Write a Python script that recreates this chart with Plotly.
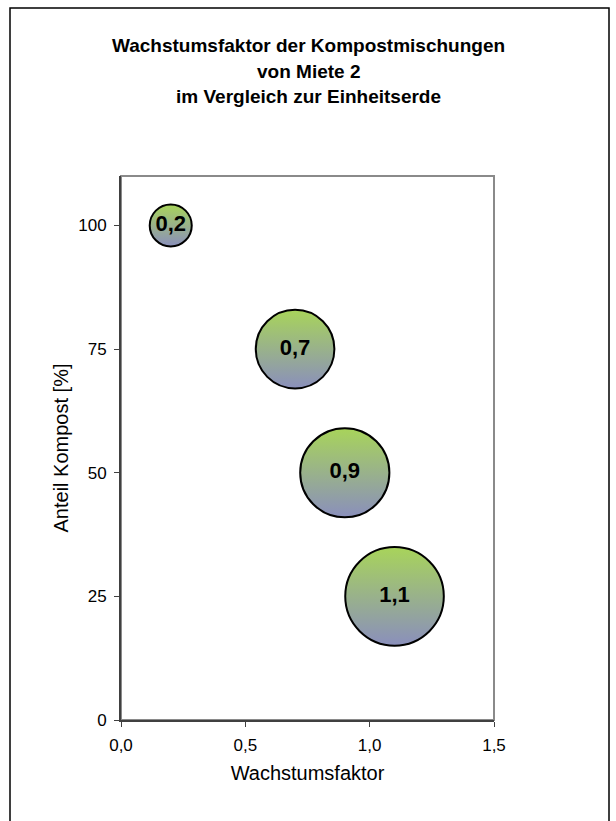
import plotly.graph_objects as go

# Wachstumsfaktor je Mischung (x-Position und Blasengröße)
wachstumsfaktor = [0.2, 0.7, 0.9, 1.1]
# Anteil Kompost in der Mischung [%]
anteil_kompost = [100, 75, 50, 25]

x_tickvals = [0.0, 0.5, 1.0, 1.5]
x_ticktext = ["0,0", "0,5", "1,0", "1,5"]
y_tickvals = [0, 25, 50, 75, 100]
y_ticktext = ["0", "25", "50", "75", "100"]

title_lines = [
    "Wachstumsfaktor der Kompostmischungen",
    "von Miete 2",
    "im Vergleich zur Einheitserde",
]

FONT = "Arial, Liberation Sans, sans-serif"

labels = [f"{v:.1f}".replace(".", ",") for v in wachstumsfaktor]

fig = go.Figure()
fig.add_trace(go.Scatter(
    x=wachstumsfaktor,
    y=anteil_kompost,
    mode="markers+text",
    text=labels,
    textposition="middle center",
    textfont=dict(family=FONT, size=22, color="#000000", weight="bold"),
    marker=dict(
        size=wachstumsfaktor,
        sizemode="area",
        sizeref=2 / (94 ** 2),
        color="#a8d45a",
        gradient=dict(type="vertical", color="#8a8fbc"),
        line=dict(color="#000000", width=2),
        opacity=1,
    ),
    cliponaxis=False,
    hoverinfo="skip",
    showlegend=False,
))

L, R, T, B = 121, 122, 176, 101
W, H = 616, 821
pw, ph = W - L - R, H - T - B


def px_x(px):
    return (px - L) / pw


def px_y(py):
    return (H - B - py) / ph


shapes = [
    # outer chart frame
    dict(type="rect", xref="paper", yref="paper",
         x0=px_x(10), x1=px_x(609), y0=px_y(830), y1=px_y(8),
         line=dict(color="#000000", width=1.5), layer="below"),
    # plot area border (top / right)
    dict(type="rect", xref="paper", yref="paper",
         x0=0, x1=1, y0=0, y1=1,
         line=dict(color="#8a8a8a", width=2), layer="below"),
]

annotations = []
for i, line in enumerate(title_lines):
    annotations.append(dict(
        text=f"<b>{line}</b>", xref="paper", yref="paper",
        x=px_x(308), y=px_y(46 + i * 25.5), xanchor="center", yanchor="middle",
        showarrow=False, font=dict(family=FONT, size=19, color="#000000"),
    ))

fig.update_layout(
    width=W, height=H,
    margin=dict(l=L, r=R, t=T, b=B),
    paper_bgcolor="#ffffff",
    plot_bgcolor="#ffffff",
    shapes=shapes,
    annotations=annotations,
    font=dict(family=FONT, color="#000000"),
    xaxis=dict(
        range=[0, 1.5], tickvals=x_tickvals, ticktext=x_ticktext,
        showgrid=False, zeroline=False,
        showline=True, linecolor="#404040", linewidth=2,
        ticks="outside", ticklen=5, tickcolor="#404040", tickwidth=1,
        ticklabelstandoff=4,
        tickfont=dict(family=FONT, size=17, color="#000000"),
        title=dict(text="Wachstumsfaktor", standoff=12,
                   font=dict(family=FONT, size=20, color="#000000")),
    ),
    yaxis=dict(
        range=[0, 110], tickvals=y_tickvals, ticktext=y_ticktext,
        showgrid=False, zeroline=False,
        showline=True, linecolor="#404040", linewidth=2,
        ticks="outside", ticklen=5, tickcolor="#404040", tickwidth=1,
        ticklabelstandoff=4,
        tickfont=dict(family=FONT, size=17, color="#000000"),
        title=dict(text="Anteil Kompost [%]", standoff=4,
                   font=dict(family=FONT, size=20, color="#000000")),
    ),
)

fig.write_html("out.html")
